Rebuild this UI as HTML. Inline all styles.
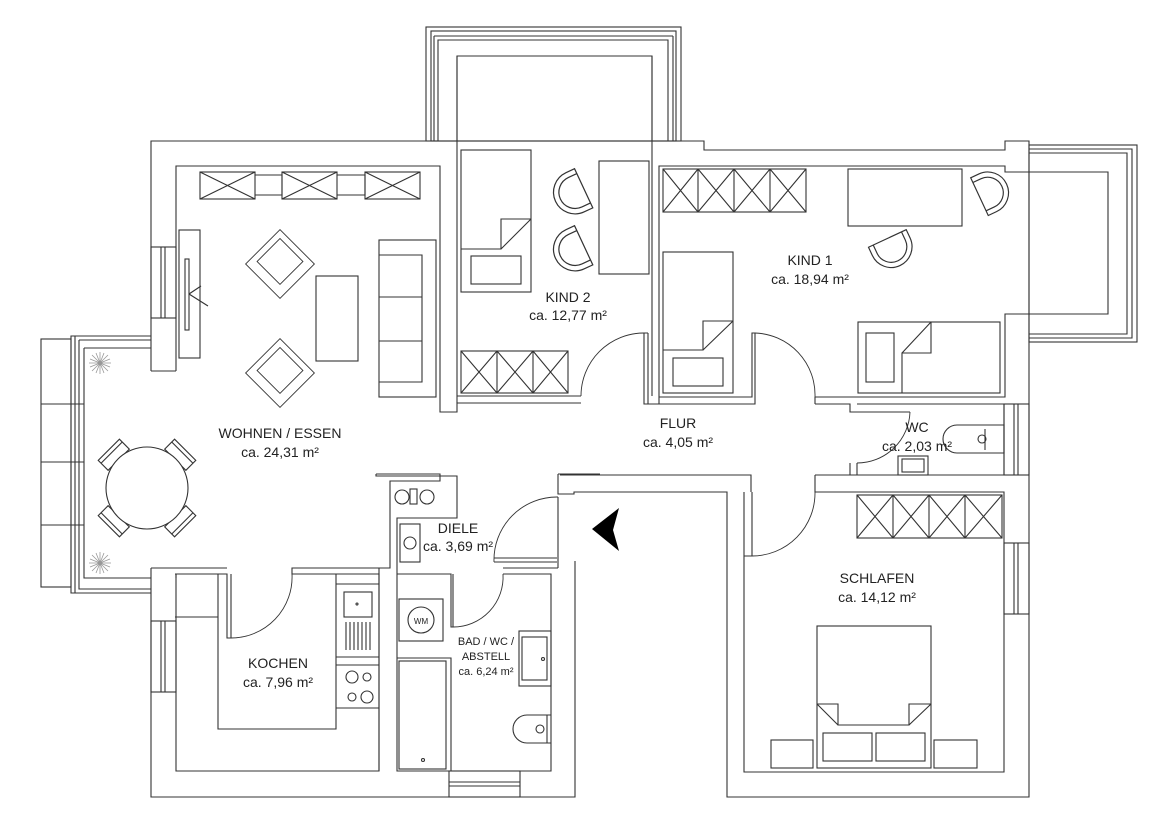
<!DOCTYPE html>
<html><head><meta charset="utf-8"><style>
html,body{margin:0;padding:0;background:#fff}
svg{display:block}
text{font-family:"Liberation Sans",sans-serif;fill:#222;text-anchor:middle}
</style></head><body>
<svg width="1167" height="822" viewBox="0 0 1167 822" xmlns="http://www.w3.org/2000/svg">
<defs>
<g id="chair"><path d="M3,-16 L-4,-16 A16 16 0 0 0 -4,16 L3,16 Z" fill="#fff" stroke="#333" stroke-width="0.9"/><path d="M3,-12 L-4,-12 A12 12 0 0 0 -4,12 L3,12" fill="none" stroke="#333" stroke-width="0.9"/></g>
<g id="arm"><rect x="-27" y="-27" width="54" height="54" fill="#fff" stroke="#333" stroke-width="1"/><rect x="-20" y="-20" width="36" height="36" fill="none" stroke="#333" stroke-width="1"/></g>
<g id="plant" stroke="#999" stroke-width="0.8"><path d="M-11,0 L11,0 M0,-11 L0,11 M-8,-8 L8,8 M-8,8 L8,-8 M-4,-10 L4,10 M-10,-4 L10,4 M-4,10 L4,-10 M-10,4 L10,-4"/></g>
</defs>
<g fill="none" stroke="#333" stroke-width="1.1">
<rect x="426" y="27" width="255" height="114"/>
<rect x="431" y="31" width="245" height="110"/>
<path d="M434,36 H673 M438,141 V40 H668 V141 M434,36 V141 M673,36 V141"/>
<rect x="1029" y="145" width="108" height="197"/>
<path d="M1029,149 H1132 V338 H1029 M1029,153 H1127 V334 H1029"/>
<path d="M151,371 V141 H457 V56 H652 V141 H704 V150 H1005 V141 H1029 V797 H727 V492 H574 V494 H558 V474"/>
<path d="M176,371 V166 H440 V412 H457 V403 H581"/>
<path d="M151,371 H176"/>
<rect x="151" y="247" width="25" height="71"/><path d="M161,247 V318 M165,247 V318"/>
<path d="M457,403 V56 M457,396 H581 M652,56 V396"/>
<path d="M644,333 V404 H659 V166 H1005 V172 H1108 V314 H1005 V397 H815 M648,333 V404 M644,333 H648"/>
<path d="M659,397 H752 V333 H755 V404 H646"/>
<path d="M815,404 H850 V412 H910 M815,397 V404"/>
<path d="M644,333 A63 63 0 0 0 581,396" stroke-width="0.9"/>
<path d="M755,333 A62 62 0 0 1 815,397" stroke-width="0.9"/>
<path d="M857,404 H1004 V475 M850,463 V475 H857 V463 M857,475 H1004"/>
<rect x="1004" y="404" width="25" height="71"/><path d="M1014,404 V475 M1018,404 V475"/>
<path d="M910,412 A53 53 0 0 1 857,463" stroke-width="0.9"/>
<path d="M957,425 H1004 V453 H957 A14 14 0 0 1 957,425 Z M985,429 V450"/>
<circle cx="982" cy="439" r="4"/>
<rect x="898" y="456" width="30" height="19"/><rect x="902" y="459" width="22" height="13"/>
<path d="M560,475 H751 V492 M744,492 V556 H752 V492 M815,475 V492 H1004 V772 H744 V556 M815,475 H857"/>
<path d="M752,556 A63 63 0 0 0 815,492" stroke-width="0.9"/>
<rect x="1004" y="543" width="25" height="71"/><path d="M1014,543 V614 M1018,543 V614"/>
<path d="M151,336 H71 V593 H151 M75,336 V593 M79,340 V589 H151 M84,348 H151 M84,348 V578 H151 M79,340 H151"/>
<rect x="41" y="339" width="30" height="248"/>
<path d="M41,404 H84 M41,462 H84 M41,525 H84"/>
<path d="M151,568 V797 H575 V561 M151,568 H227 M176,574 V771 H379 V574 H292 V568 H390 V481 H440 V476 H457 V518 H397 V568 M376,474 H440 V481 M376,474 V476 H440"/>
<path d="M176,574 V578 M175,574 H227 V638 H231 V574"/>
<path d="M231,638 A61 61 0 0 0 292,574" stroke-width="0.9"/>
<rect x="151" y="621" width="25" height="71"/><path d="M161,621 V692 M165,621 V692"/>
<path d="M175,617 H218 V729 H336 V574 M218,574 V617"/>
<path d="M336,584 H379 M336,657 H379 M336,665 H379 M336,708 H379"/>
<rect x="344" y="592" width="28" height="25"/>
<circle cx="357" cy="604" r="1"/>
<path d="M346,622 V650 M350,622 V650 M354,622 V650 M358,622 V650 M362,622 V650 M366,622 V650 M370,622 V650"/>
<circle cx="352" cy="677" r="6"/><circle cx="367" cy="677" r="4"/><circle cx="352" cy="697" r="4"/><circle cx="367" cy="697" r="6"/>
<path d="M379,574 V771 M397,568 V771 H551 V574 H503 M397,574 H451 V627 H453 V574 M558,497 V568 M551,574 V771 M379,568 V574"/>
<path d="M453,627 A50 50 0 0 0 503,574" stroke-width="0.9"/>
<path d="M494,558 H557 M494,562 H557 M503,568 H558"/>
<path d="M494,562 A63 63 0 0 1 558,497" stroke-width="0.9"/>
<path d="M558,474 H600"/>
<rect x="449" y="771" width="71" height="26"/><path d="M449,782 H520 M449,786 H520"/>
<rect x="399" y="599" width="44" height="42"/><circle cx="421" cy="620" r="13"/>
<path d="M397,658 H451 V771"/>
<rect x="399" y="661" width="47" height="108"/><circle cx="423" cy="760" r="1.5"/>
<rect x="519" y="631" width="32" height="55"/><rect x="522" y="637" width="25" height="43"/><circle cx="543" cy="659" r="1.5"/>
<path d="M551,715 H527 A14 14 0 0 0 527,743 H551 M547,715 V743"/><circle cx="540" cy="729" r="4"/>
<circle cx="402" cy="497" r="7"/><rect x="410" y="489" width="7" height="15"/><circle cx="427" cy="497" r="7"/>
<rect x="400" y="524" width="20" height="38"/><circle cx="410" cy="543" r="6"/>
<rect x="200" y="172" width="55" height="27"/><path d="M200,172 L255,199 M255,172 L200,199"/>
<rect x="282" y="172" width="55" height="27"/><path d="M282,172 L337,199 M337,172 L282,199"/>
<rect x="365" y="172" width="55" height="27"/><path d="M365,172 L420,199 M420,172 L365,199"/>
<path d="M255,175 H282 V195 H255 M337,175 H365 V195 H337"/>
<rect x="179" y="230" width="21" height="128"/><rect x="185" y="259" width="4" height="71"/>
<path d="M189,294 L201,286 M189,294 L208,306"/>
<rect x="316" y="276" width="42" height="85"/>
<rect x="379" y="240" width="57" height="157"/><path d="M379,255 H422 V382 H379 M379,297 H422 M379,341 H422"/>
<use href="#arm" transform="translate(280,264) rotate(45) scale(0.9)"/>
<use href="#arm" transform="translate(280,373) rotate(45) scale(0.9)"/>
<g transform="translate(147,488)">
<g transform="rotate(-45)"><rect x="-15" y="-54" width="30" height="14" fill="#fff"/><path d="M-15,-50 H15"/></g>
<g transform="rotate(45)"><rect x="-15" y="-54" width="30" height="14" fill="#fff"/><path d="M-15,-50 H15"/></g>
<g transform="rotate(135)"><rect x="-15" y="-54" width="30" height="14" fill="#fff"/><path d="M-15,-50 H15"/></g>
<g transform="rotate(-135)"><rect x="-15" y="-54" width="30" height="14" fill="#fff"/><path d="M-15,-50 H15"/></g>
</g>
<circle cx="147" cy="488" r="41" fill="#fff"/>
<rect x="461" y="150" width="70" height="142"/><rect x="471" y="256" width="50" height="28"/>
<path d="M461,249 H501 V219 H531 M501,249 L531,219"/>
<rect x="599" y="161" width="50" height="113"/>
<rect x="461" y="351" width="107" height="42"/>
<path d="M497,351 V393 M533,351 V393 M461,351 L497,393 M497,351 L461,393 M497,351 L533,393 M533,351 L497,393 M533,351 L568,393 M568,351 L533,393"/>
<rect x="663" y="169" width="143" height="43"/>
<path d="M698,169 V212 M734,169 V212 M770,169 V212 M663,169 L698,212 M698,169 L663,212 M698,169 L734,212 M734,169 L698,212 M734,169 L770,212 M770,169 L734,212 M770,169 L806,212 M806,169 L770,212"/>
<rect x="848" y="169" width="114" height="57"/>
<rect x="663" y="252" width="70" height="141"/><rect x="673" y="358" width="50" height="28"/>
<path d="M663,350 H703 V321 H733 M703,350 L733,321"/>
<rect x="858" y="322" width="142" height="71"/><rect x="866" y="333" width="28" height="49"/>
<path d="M902,393 V353 H931 V322 M902,353 L931,322"/>
<rect x="857" y="495" width="145" height="43"/>
<path d="M893,495 V538 M929,495 V538 M965,495 V538 M857,495 L893,538 M893,495 L857,538 M893,495 L929,538 M929,495 L893,538 M929,495 L965,538 M965,495 L929,538 M965,495 L1002,538 M1002,495 L965,538"/>
<rect x="817" y="626" width="114" height="142"/>
<path d="M817,704 H838 V725 H909 V704 H931 M817,704 L838,725 M931,704 L909,725"/>
<rect x="823" y="733" width="49" height="28"/><rect x="876" y="733" width="49" height="28"/>
<rect x="771" y="740" width="42" height="28"/><rect x="934" y="740" width="43" height="28"/>
</g>
<use href="#chair" transform="translate(580,190) rotate(-25) scale(1.35)"/>
<use href="#chair" transform="translate(580,247) rotate(-25) scale(1.35)"/>
<use href="#chair" transform="translate(983,195) rotate(155) scale(1.3)"/>
<use href="#chair" transform="translate(889,242) rotate(-115) scale(1.3)"/>
<use href="#plant" transform="translate(100,363)"/>
<use href="#plant" transform="translate(100,563)"/>
<path d="M592,529 L619,508 L613,530 L619,551 Z" fill="#000"/>
<text x="421" y="624" font-size="8">WM</text>
<text x="280" y="438" font-size="14">WOHNEN / ESSEN</text>
<text x="280" y="457" font-size="14">ca. 24,31 m²</text>
<text x="568" y="302" font-size="14">KIND 2</text>
<text x="568" y="320" font-size="14">ca. 12,77 m²</text>
<text x="810" y="265" font-size="14">KIND 1</text>
<text x="810" y="284" font-size="14">ca. 18,94 m²</text>
<text x="678" y="428" font-size="14">FLUR</text>
<text x="678" y="447" font-size="14">ca. 4,05 m²</text>
<text x="917" y="432" font-size="14">WC</text>
<text x="917" y="451" font-size="14">ca. 2,03 m²</text>
<text x="458" y="533" font-size="14">DIELE</text>
<text x="458" y="551" font-size="14">ca. 3,69 m²</text>
<text x="486" y="645" font-size="11">BAD / WC /</text>
<text x="486" y="660" font-size="11">ABSTELL</text>
<text x="486" y="675" font-size="11">ca. 6,24 m²</text>
<text x="278" y="668" font-size="14">KOCHEN</text>
<text x="278" y="687" font-size="14">ca. 7,96 m²</text>
<text x="877" y="583" font-size="14">SCHLAFEN</text>
<text x="877" y="602" font-size="14">ca. 14,12 m²</text>
</svg>
</body></html>
